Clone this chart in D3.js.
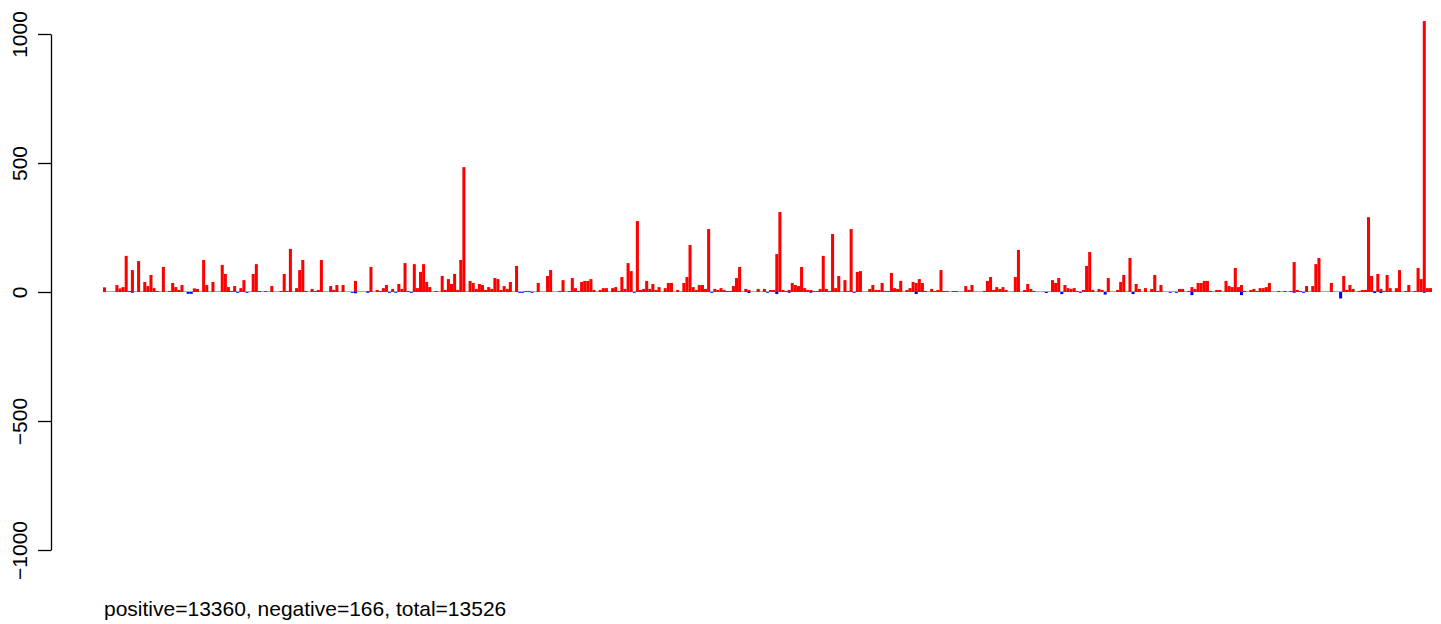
<!DOCTYPE html>
<html>
<head>
<meta charset="utf-8">
<script src="https://cdn.jsdelivr.net/npm/d3@7"></script>
<style>
body { margin: 0; background: #fff; }
text { font-family: "Liberation Sans", Arial, sans-serif; }
</style>
</head>
<body>
<svg id="chart" width="1441" height="624"></svg>
<script>
// positive counts per bin, read left to right
var positive = [
	18,0,0,0,27,14,19,140,4,85,0,120,0,39,23,66,15,4,0,97,0,4,35,19,8,27,0,0,0,14,12,0,124,27,0,39,0,0,105,70,19,4,23,
	0,15,46,0,0,70,108,4,0,4,0,23,0,0,4,70,4,167,0,15,85,124,4,0,12,4,8,124,0,0,23,8,27,0,27,0,0,0,43,0,0,0,
	4,97,0,8,4,15,27,0,12,0,31,12,112,4,0,108,15,78,108,39,19,0,4,0,62,8,50,31,70,8,124,484,0,43,35,12,31,27,8,19,12,54,50,
	8,23,12,39,0,101,0,0,4,4,0,0,35,0,0,62,85,0,0,4,46,0,4,54,15,4,39,43,43,50,8,0,8,15,15,0,15,19,4,58,12,112,81,
	0,275,8,12,43,12,31,8,19,0,15,35,35,0,8,0,35,58,182,19,8,27,27,12,244,0,12,8,15,8,4,4,23,54,97,0,12,8,0,0,12,0,12,
	0,8,8,147,310,8,4,8,35,27,23,97,15,8,8,4,4,12,140,12,4,225,15,62,0,46,4,244,0,78,81,0,0,12,27,8,8,35,4,4,74,15,12,43,
	0,8,15,39,35,50,35,4,0,12,4,8,85,4,4,0,4,4,0,0,23,8,27,0,0,0,4,43,58,8,19,12,19,8,0,0,58,163,0,8,31,12,4,
	0,0,0,0,0,46,35,54,0,27,15,12,15,4,0,8,101,155,8,0,12,8,0,54,0,0,8,39,66,0,132,0,31,12,0,15,0,12,66,4,27,0,0,
	0,0,0,12,12,0,4,19,12,35,35,43,43,4,0,8,8,0,43,23,19,93,19,27,4,0,8,12,4,15,15,19,35,0,0,4,0,4,0,4,116,8,
	4,0,23,0,23,108,132,0,0,0,35,0,0,0,62,8,27,12,0,4,8,8,290,62,4,70,12,4,66,15,0,15,85,0,4,27,0,4,93,50,1050,15,15
];

// bins that also have negative counts
var negBins = [9,27,28,43,46,80,81,85,92,94,99,134,135,138,171,196,208,214,217,221,228,242,262,
	304,309,315,323,332,344,346,351,367,384,387,399,410,412,426];
var negValues = [-3,-7,-7,-3,-3,-3,-5,-3,-3,-3,-3,-3,-3,-3,-3,-3,-4,-3,-8,-3,-3,-3,-8,
	-4,-8,-3,-10,-8,-3,-3,-12,-12,-3,-3,-25,-4,-4,-3];

var yTicks = [-1000, -500, 0, 500, 1000];
var caption = "positive=13360, negative=166, total=13526";

var svg = d3.select("#chart");

var bins = d3.range(positive.length);
var negative = bins.map(function(){ return 0; });
negBins.forEach(function(b, i){ negative[b] = negValues[i]; });

var x = d3.scaleBand()
	.domain(bins)
	.range([103, 1432])
	.paddingInner(0.02);

var y = d3.scaleLinear()
	.domain([-1000, 1000])
	.range([550, 34]);

// faint baseline under the bars
svg.append("line")
	.attr("x1", x(0))
	.attr("x2", x(bins.length - 1) + x.bandwidth())
	.attr("y1", y(0) - 0.5)
	.attr("y2", y(0) - 0.5)
	.attr("stroke", "#aaaaaa")
	.attr("stroke-width", 1);

svg.append("g").selectAll("rect")
	.data(bins.filter(function(i){ return positive[i] > 0; }))
	.enter().append("rect")
	.attr("x", function(i){ return x(i); })
	.attr("width", x.bandwidth())
	.attr("y", function(i){ return y(positive[i]); })
	.attr("height", function(i){ return y(0) - y(positive[i]); })
	.attr("fill", "#ff0000");

svg.append("g").selectAll("rect")
	.data(bins.filter(function(i){ return negative[i] < 0; }))
	.enter().append("rect")
	.attr("x", function(i){ return x(i); })
	.attr("width", x.bandwidth())
	.attr("y", y(0))
	.attr("height", function(i){ return y(negative[i]) - y(0); })
	.attr("fill", "#0000ff");

// y axis, R style: rotated labels
var axis = svg.append("g")
	.attr("transform", "translate(51,0)")
	.call(d3.axisLeft(y).tickValues(yTicks).tickSize(13).tickSizeOuter(0)
		.tickFormat(function(d){ return d3.format("d")(d).replace("-", "\u2212"); }));

axis.select(".domain").attr("stroke", "#000").attr("stroke-width", 1.3);
axis.selectAll(".tick line").attr("stroke", "#000").attr("stroke-width", 1.3);
axis.selectAll(".tick text")
	.attr("x", null)
	.attr("dy", null)
	.attr("font-size", 21)
	.attr("font-family", "Liberation Sans, Arial, sans-serif")
	.attr("fill", "#000")
	.attr("text-anchor", "middle")
	.attr("transform", "translate(-24,0) rotate(-90)");

svg.append("text")
	.attr("x", 104)
	.attr("y", 616)
	.attr("font-size", 21)
	.attr("fill", "#000")
	.text(caption);
</script>
</body>
</html>
